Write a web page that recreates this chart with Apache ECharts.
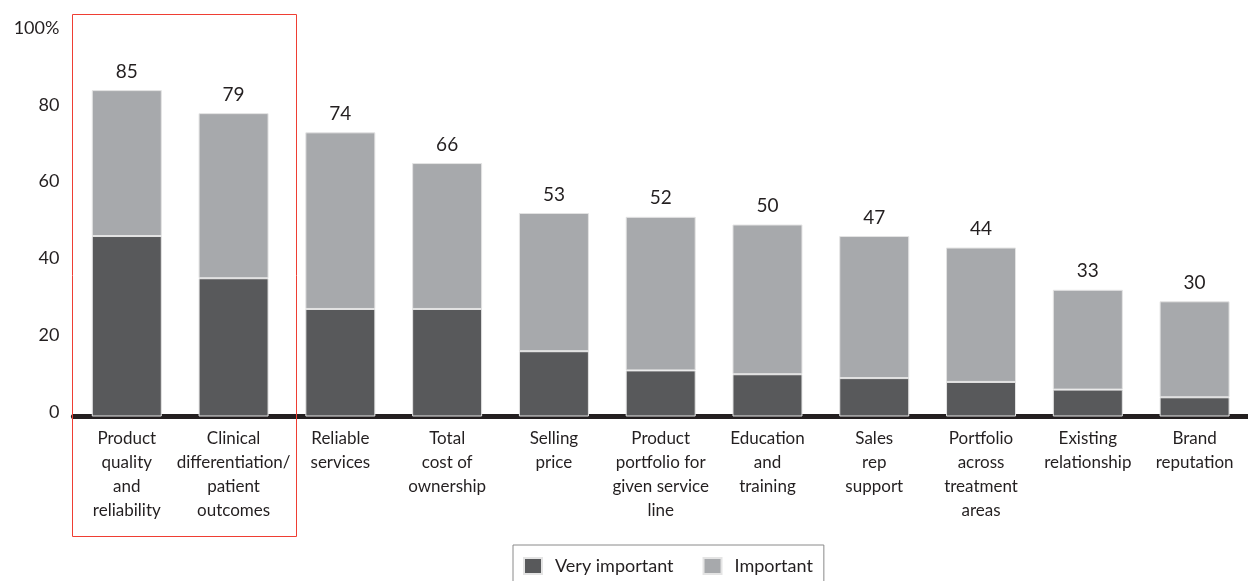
<!DOCTYPE html>
<html>
<head>
<meta charset="utf-8">
<script src="https://cdn.jsdelivr.net/npm/echarts@6/dist/echarts.min.js"></script>
<style>
  html, body { margin: 0; padding: 0; background: #ffffff; }
  #chart { width: 1248px; height: 581px; }
</style>
</head>
<body>
<div id="chart"></div>
<script>
// Purchase criteria, share of respondents rating each one (%)
const categories = [
  'Product\nquality\nand\nreliability',
  'Clinical\ndifferentiation/\npatient\noutcomes',
  'Reliable\nservices',
  'Total\ncost of\nownership',
  'Selling\nprice',
  'Product\nportfolio for\ngiven service\nline',
  'Education\nand\ntraining',
  'Sales\nrep\nsupport',
  'Portfolio\nacross\ntreatment\nareas',
  'Existing\nrelationship',
  'Brand\nreputation'
];
const totals        = [85, 79, 74, 66, 53, 52, 50, 47, 44, 33, 30];
const veryImportant = [47, 36, 28, 28, 17, 12, 11, 10, 9, 7, 5];
const important     = totals.map((t, i) => t - veryImportant[i]);
const yTicks = [0, 20, 40, 60, 80, 100];

const FONT = 'Lato';
const INK = '#231f20';
const DARK = '#58595b';
const LIGHT = '#a7a9ac';

const chart = echarts.init(document.getElementById('chart'), null, { renderer: 'canvas' });

chart.setOption({
  animation: false,
  textStyle: { fontFamily: FONT, color: INK },
  grid: { left: 73.4, top: 32.5, width: 1178.6, height: 384 },
  xAxis: {
    type: 'category',
    data: categories,
    axisLine: { show: true, lineStyle: { color: INK, width: 5 } },
    axisTick: { show: false },
    axisLabel: {
      margin: 10,
      fontFamily: FONT,
      fontSize: 17,
      lineHeight: 24,
      color: INK,
      align: 'center',
      verticalAlign: 'top',
      interval: 0
    }
  },
  yAxis: {
    type: 'value',
    min: yTicks[0],
    max: yTicks[yTicks.length - 1],
    interval: 20,
    axisLine: { show: false },
    axisTick: { show: false },
    splitLine: { show: false },
    axisLabel: {
      margin: 14,
      fontFamily: FONT,
      fontSize: 18,
      color: INK,
      verticalAlign: 'bottom',
      lineHeight: 9,
      formatter: v => (v === 100 ? '100%' : String(v))
    }
  },
  legend: {
    left: 513,
    top: 545,
    orient: 'horizontal',
    data: ['Very important', 'Important'],
    icon: 'rect',
    itemWidth: 18,
    itemHeight: 16,
    itemGap: 29,
    padding: [12, 11, 14, 10],
    borderColor: '#8a8a8a',
    borderWidth: 1,
    textStyle: { fontFamily: FONT, fontSize: 18, color: INK, padding: [0, 0, 0, 8] }
  },
  series: [
    {
      name: 'Very important',
      type: 'bar',
      stack: 'total',
      barWidth: 70,
      data: veryImportant,
      itemStyle: { color: DARK, borderColor: '#e4e4e4', borderWidth: 1 }
    },
    {
      name: 'Important',
      type: 'bar',
      stack: 'total',
      barWidth: 70,
      data: important,
      itemStyle: { color: LIGHT, borderColor: '#e4e4e4', borderWidth: 1 },
      label: {
        show: true,
        position: 'top',
        distance: 9,
        fontFamily: FONT,
        fontSize: 19,
        color: INK,
        formatter: p => String(totals[p.dataIndex])
      }
    }
  ],
  graphic: [
    {
      // outline grouping the first two criteria
      type: 'rect',
      shape: { x: 72.5, y: 14.5, width: 224, height: 522 },
      style: { fill: 'none', stroke: '#ef3e33', lineWidth: 1 },
      z: 10
    }
  ]
});
</script>
</body>
</html>
